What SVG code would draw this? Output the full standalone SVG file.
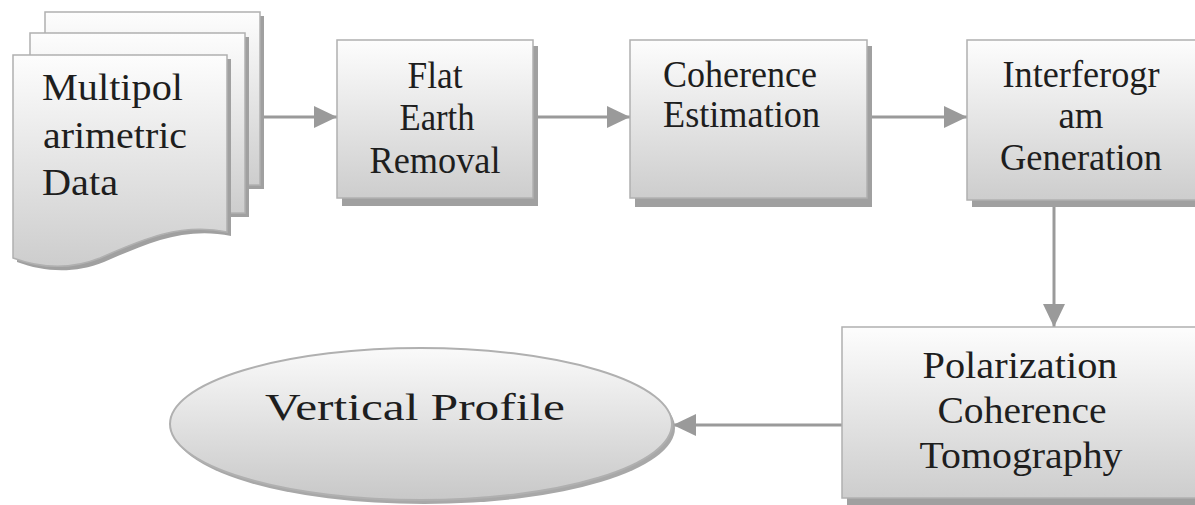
<svg xmlns="http://www.w3.org/2000/svg" width="1195" height="505" viewBox="0 0 1195 505">
  <defs>
    <linearGradient id="g" x1="0" y1="0" x2="0" y2="1">
      <stop offset="0" stop-color="#fdfdfd"/>
      <stop offset="1" stop-color="#cdcdcd"/>
    </linearGradient>
    <linearGradient id="ge" x1="0" y1="0" x2="0" y2="1">
      <stop offset="0" stop-color="#fafafa"/>
      <stop offset="1" stop-color="#c8c8c8"/>
    </linearGradient>
    <marker id="ah" markerWidth="24" markerHeight="24" refX="23" refY="11" orient="auto" markerUnits="userSpaceOnUse">
      <path d="M0,0 L23,11 L0,22 Z" fill="#9a9a9a"/>
    </marker>
    <style>
      .box { fill: url(#g); stroke: #b0b0b0; stroke-width: 1.5; }
      .sh { fill: #a0a0a0; }
      .t { font-size: 38px; fill: #1e1e1e; }
      .c { text-anchor: middle; }
      .conn { stroke: #9a9a9a; stroke-width: 3; fill: none; marker-end: url(#ah); }
    </style>
  </defs>

  <g id="connectors">
    <line class="conn" x1="258" y1="117" x2="337" y2="117"/>
    <line class="conn" x1="533" y1="117" x2="630" y2="117"/>
    <line class="conn" x1="867" y1="117" x2="967" y2="117"/>
    <line class="conn" x1="1054" y1="200" x2="1054" y2="327"/>
    <line class="conn" x1="842" y1="425" x2="673" y2="425"/>
  </g>

  <g id="multipolarimetric-data" font-family="Liberation Serif, Times New Roman, serif">
    <rect class="sh" x="49" y="16" width="215" height="173"/>
    <rect class="box" x="45" y="12" width="215" height="173"/>
    <rect class="sh" x="34" y="37" width="215" height="180"/>
    <rect class="box" x="30" y="33" width="215" height="180"/>
    <path class="sh" d="M17,59 L231,59 L231,236 C185,226 145,244 104,262 C74,274 44,272 17,262 Z"/>
    <path class="box" d="M13,55 L227,55 L227,232 C181,222 141,240 100,258 C70,270 40,268 13,258 Z"/>
    <text class="t" x="42" y="100" textLength="141" lengthAdjust="spacingAndGlyphs">Multipol</text>
    <text class="t" x="43" y="148" textLength="144" lengthAdjust="spacingAndGlyphs">arimetric</text>
    <text class="t" x="42" y="195" textLength="76" lengthAdjust="spacingAndGlyphs">Data</text>
  </g>

  <g id="flat-earth-removal" font-family="Liberation Serif, Times New Roman, serif">
    <rect class="sh" x="342" y="46" width="196" height="160"/>
    <rect class="box" x="337" y="40" width="196" height="158"/>
    <text class="t c" x="435" y="88" textLength="55" lengthAdjust="spacingAndGlyphs">Flat</text>
    <text class="t c" x="437" y="130" textLength="75" lengthAdjust="spacingAndGlyphs">Earth</text>
    <text class="t c" x="435" y="173" textLength="131" lengthAdjust="spacingAndGlyphs">Removal</text>
  </g>

  <g id="coherence-estimation" font-family="Liberation Serif, Times New Roman, serif">
    <rect class="sh" x="635" y="46" width="237" height="161"/>
    <rect class="box" x="630" y="40" width="237" height="158"/>
    <text class="t" x="663" y="87" textLength="154" lengthAdjust="spacingAndGlyphs">Coherence</text>
    <text class="t" x="663" y="127" textLength="157" lengthAdjust="spacingAndGlyphs">Estimation</text>
  </g>

  <g id="interferogram-generation" font-family="Liberation Serif, Times New Roman, serif">
    <rect class="sh" x="972" y="46" width="240" height="161"/>
    <rect class="box" x="967" y="40" width="240" height="160"/>
    <text class="t c" x="1081" y="87" textLength="157" lengthAdjust="spacingAndGlyphs">Interferogr</text>
    <text class="t c" x="1081" y="128" textLength="45" lengthAdjust="spacingAndGlyphs">am</text>
    <text class="t c" x="1081" y="170" textLength="162" lengthAdjust="spacingAndGlyphs">Generation</text>
  </g>

  <g id="polarization-coherence-tomography" font-family="Liberation Serif, Times New Roman, serif">
    <rect class="sh" x="847" y="333" width="360" height="172"/>
    <rect class="box" x="842" y="327" width="360" height="171"/>
    <text class="t c" x="1020" y="378" textLength="195" lengthAdjust="spacingAndGlyphs">Polarization</text>
    <text class="t c" x="1022" y="423" textLength="169" lengthAdjust="spacingAndGlyphs">Coherence</text>
    <text class="t c" x="1021" y="468" textLength="203" lengthAdjust="spacingAndGlyphs">Tomography</text>
  </g>

  <g id="vertical-profile" font-family="Liberation Serif, Times New Roman, serif">
    <ellipse cx="424" cy="428" rx="251" ry="76" fill="#a8a8a8"/>
    <ellipse cx="421" cy="424" rx="251" ry="76" fill="url(#ge)" stroke="#b0b0b0" stroke-width="2"/>
    <text class="t" x="265" y="420" font-size="46" textLength="300" lengthAdjust="spacingAndGlyphs">Vertical Profile</text>
  </g>
</svg>
